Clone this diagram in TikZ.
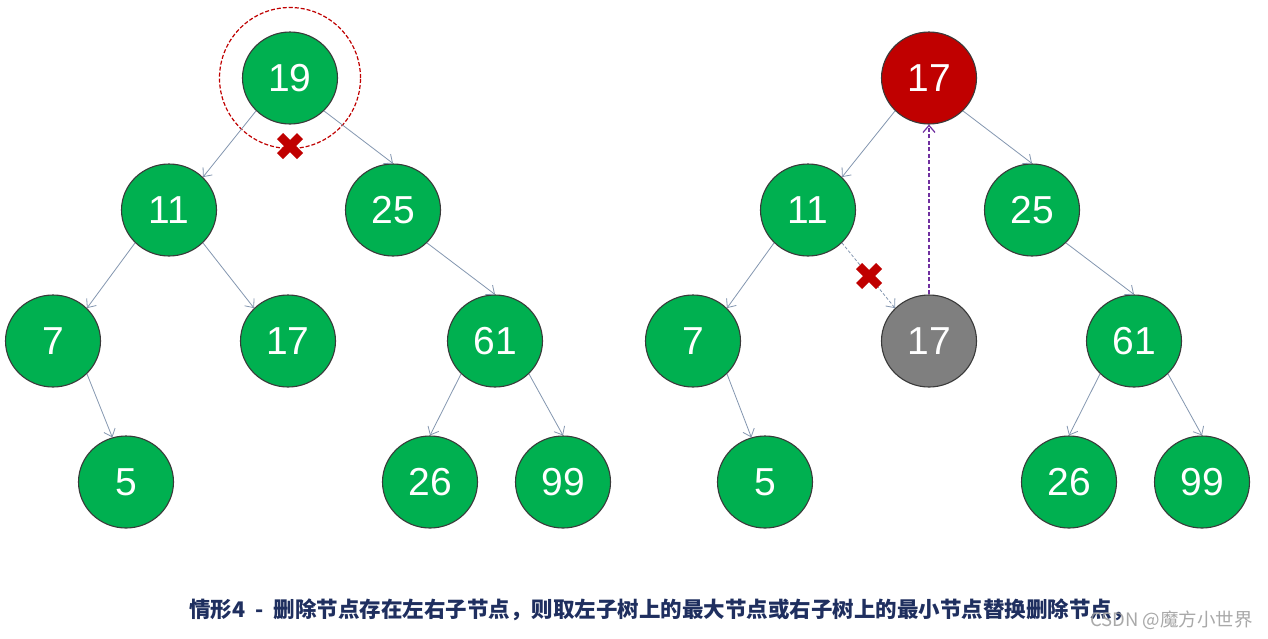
\documentclass[tikz,border=0pt]{standalone}
\usepackage{fontspec}
\setmainfont{Liberation Sans}
\newfontfamily\cjk{Noto Sans CJK SC}
\usetikzlibrary{shapes.geometric,arrows.meta}
\definecolor{ngreen}{HTML}{00B050}
\definecolor{nred}{HTML}{C00000}
\definecolor{ngray}{HTML}{7F7F7F}
\definecolor{nline}{HTML}{3A3A3A}
\definecolor{ecol}{HTML}{8497B0}
\definecolor{cpurple}{HTML}{7030A0}
\definecolor{capcol}{HTML}{1F2F5F}
\definecolor{wmcol}{HTML}{9A9A9A}
\begin{document}
\begin{tikzpicture}[x=1pt,y=-1pt,
  tnode/.style={ellipse, draw=nline, line width=1.1pt, fill=ngreen, minimum width=95pt, minimum height=92pt, inner sep=0pt, text=white, font=\fontsize{39}{40}\selectfont},
  tedge/.style={draw=ecol, line width=0.8pt, -{Straight Barb[length=7pt,width=12pt,line width=0.8pt]}},
  xmark/.style={draw=nred, line width=8.5pt},
  redring/.style={circle, draw=nred, line width=1.2pt, dash pattern=on 4pt off 2pt, minimum size=141pt, inner sep=0pt}
]
\useasboundingbox (0,0) rectangle (1268,638);
\fill[white] (0,0) rectangle (1268,638);

% ---------- left tree ----------
\node[tnode] (a19) at (290,78) {19};
\node[tnode] (a11) at (169,210) {11};
\node[tnode] (a25) at (393,210) {25};
\node[tnode] (a7)  at (53,341)  {7};
\node[tnode] (a17) at (288,341) {17};
\node[tnode] (a61) at (495,341) {61};
\node[tnode] (a5)  at (126,482) {5};
\node[tnode] (a26) at (430,482) {26};
\node[tnode] (a99) at (563,482) {99};

\node[redring] (ring) at (290,78) {};

\draw[tedge] (a19.south west) -- (a11.north east);
\draw[tedge] (a19.south east) -- (a25.north);
\draw[tedge] (a11.south west) -- (a7.north east);
\draw[tedge] (a11.south east) -- (a17.north west);
\draw[tedge] (a7.south east) -- (a5.107);
\draw[tedge] (a25.south east) -- (a61.north);
\draw[tedge] (a61.south west) -- (a26.north);
\draw[tedge] (a61.south east) -- (a99.north);

\coordinate (x1) at (290,146);
\draw[xmark] ([shift={(-10,-10)}]x1) -- ([shift={(10,10)}]x1);
\draw[xmark] ([shift={(-10,10)}]x1) -- ([shift={(10,-10)}]x1);

% ---------- right tree ----------
\node[tnode, fill=nred] (b17) at (929,78) {17};
\node[tnode] (b11) at (808,210) {11};
\node[tnode] (b25) at (1032,210) {25};
\node[tnode] (b7)  at (693,341)  {7};
\node[tnode, fill=ngray] (bg17) at (929,341) {17};
\node[tnode] (b61) at (1134,341) {61};
\node[tnode] (b5)  at (765,482) {5};
\node[tnode] (b26) at (1069,482) {26};
\node[tnode] (b99) at (1202,482) {99};

\draw[tedge] (b17.south west) -- (b11.north east);
\draw[tedge] (b17.south east) -- (b25.north);
\draw[tedge] (b11.south west) -- (b7.north east);
\draw[tedge, dash pattern=on 3pt off 2pt] (b11.south east) -- (bg17.north west);
\draw[tedge] (b7.south east) -- (b5.107);
\draw[tedge] (b25.south east) -- (b61.north);
\draw[tedge] (b61.south west) -- (b26.north);
\draw[tedge] (b61.south east) -- (b99.north);

\draw[draw=cpurple, line width=1.3pt, dash pattern=on 4pt off 2.5pt, -{Straight Barb[length=7pt,width=12pt,line width=1.2pt]}] (bg17.north) -- (b17.south);

\coordinate (x2) at (869,276);
\draw[xmark] ([shift={(-10,-10)}]x2) -- ([shift={(10,10)}]x2);
\draw[xmark] ([shift={(-10,10)}]x2) -- ([shift={(10,-10)}]x2);

% ---------- caption ----------
\node[anchor=west, inner sep=0pt, text=capcol, font=\cjk\bfseries\fontsize{21.5}{24}\selectfont] (cap) at (189,610) {情形4\hspace{10pt}-\hspace{10pt}删除节点存在左右子节点，则取左子树上的最大节点或右子树上的最小节点替换删除节点，};
\node[anchor=east, inner sep=0pt, text=wmcol, opacity=0.85, font=\cjk\fontsize{18.5}{20}\selectfont] (wm) at (1253,620) {CSDN @魔方小世界};
\end{tikzpicture}
\end{document}
